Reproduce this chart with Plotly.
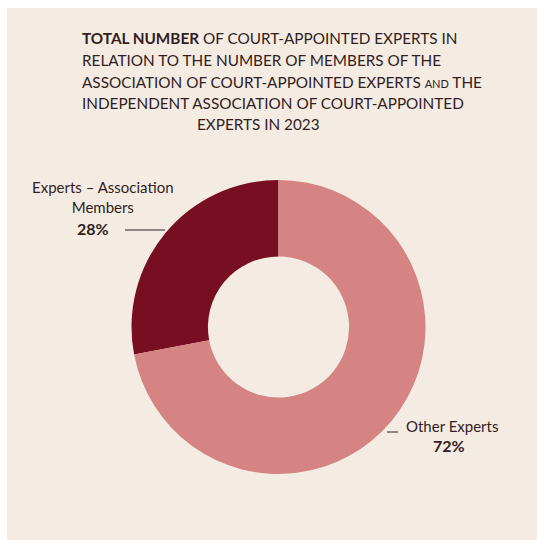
import plotly.graph_objects as go

W, H = 544, 547

# Data
categories = ["Experts – Association<br>Members", "Other Experts"]
shares = [28, 72]
slice_colors = ["#780e21", "#d68384"]

title_lines = [
    "<b>TOTAL NUMBER</b> OF COURT-APPOINTED EXPERTS IN",
    "RELATION TO THE NUMBER OF MEMBERS OF THE",
    "ASSOCIATION OF COURT-APPOINTED EXPERTS <span style='font-size:11px'>AND</span> THE",
    "INDEPENDENT ASSOCIATION OF COURT-APPOINTED",
    "EXPERTS IN 2023",
]

BG = "#f4ece3"
TEXT = "#311d22"
FONT = "Lato"


def px(x):
    return x / W


def py(y):
    return 1 - y / H


# donut placement in pixels
cx, cy, r = 278.5, 327.0, 147.0

total = sum(shares)
# the first slice ends at 12 o'clock, spreading to the left of it
start_angle = -360 * shares[0] / total

fig = go.Figure(
    go.Pie(
        labels=categories,
        values=shares,
        marker=dict(colors=slice_colors, line=dict(width=0)),
        hole=0.48,
        sort=False,
        direction="clockwise",
        rotation=start_angle,
        textinfo="none",
        hoverinfo="label+percent",
        showlegend=False,
        domain=dict(x=[px(cx - r), px(cx + r)], y=[py(cy + r), py(cy - r)]),
    )
)

annotations = []
title_y = [38, 60, 82, 103, 124]
for i, (line, yy) in enumerate(zip(title_lines, title_y)):
    last = i == len(title_lines) - 1
    annotations.append(dict(
        x=px(258.5) if last else px(80), y=py(yy), xref="paper", yref="paper",
        xanchor="center" if last else "left", yanchor="middle",
        text=line, showarrow=False,
        font=dict(family=FONT, size=15.3, color=TEXT),
    ))

# slice labels
pct = [f"<b>{round(v * 100 / total)}%</b>" for v in shares]
annotations += [
    dict(x=px(103), y=py(197), xref="paper", yref="paper", xanchor="center",
         yanchor="middle", text=categories[0], showarrow=False, align="center",
         font=dict(family=FONT, size=15, color=TEXT)),
    dict(x=px(93), y=py(228), xref="paper", yref="paper", xanchor="center",
         yanchor="middle", text=pct[0], showarrow=False,
         font=dict(family=FONT, size=16, color=TEXT)),
    dict(x=px(404), y=py(426), xref="paper", yref="paper", xanchor="left",
         yanchor="middle", text=categories[1], showarrow=False,
         font=dict(family=FONT, size=15, color=TEXT)),
    dict(x=px(449), y=py(445), xref="paper", yref="paper", xanchor="center",
         yanchor="middle", text=pct[1], showarrow=False,
         font=dict(family=FONT, size=16, color=TEXT)),
]

shapes = [
    dict(type="rect", xref="paper", yref="paper", x0=px(7), x1=px(537),
         y0=py(540), y1=py(8), fillcolor=BG, line=dict(width=0), layer="below"),
    dict(type="line", xref="paper", yref="paper", x0=px(125), x1=px(165),
         y0=py(230), y1=py(230), line=dict(color=TEXT, width=1)),
    dict(type="line", xref="paper", yref="paper", x0=px(387), x1=px(398),
         y0=py(432), y1=py(432), line=dict(color=TEXT, width=1)),
]

fig.update_layout(
    width=W, height=H,
    margin=dict(l=0, r=0, t=0, b=0),
    paper_bgcolor="white",
    plot_bgcolor="white",
    annotations=annotations,
    shapes=shapes,
)

fig.write_html("out.html")
